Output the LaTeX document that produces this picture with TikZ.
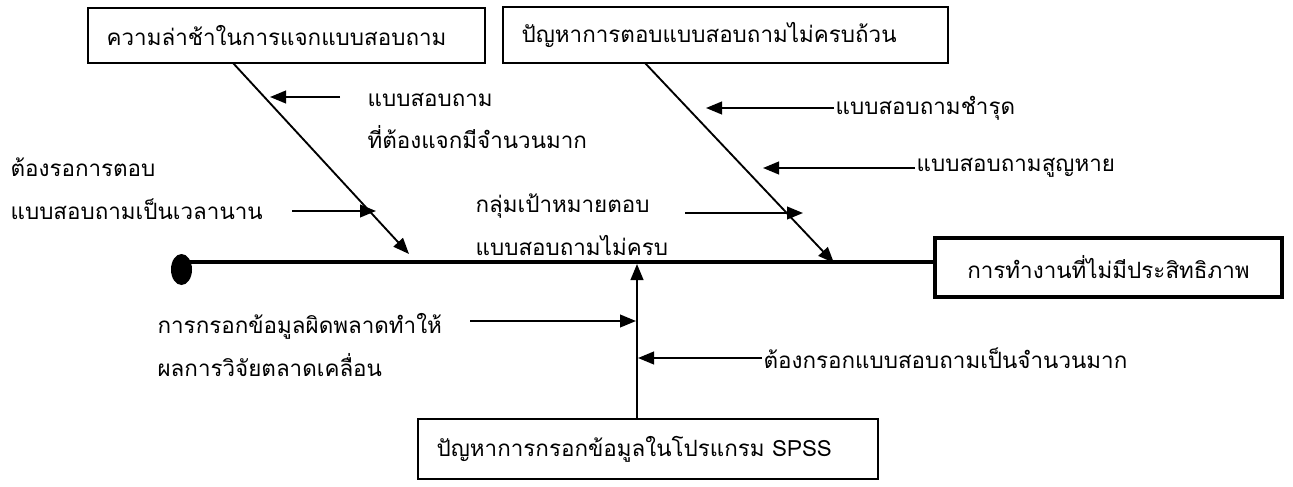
\documentclass[tikz,border=0pt]{standalone}
\usepackage{fontspec}
\newfontfamily\thaifont[Script=Thai]{Loma}
\usetikzlibrary{arrows.meta,shapes.geometric}
\begin{document}
\begin{tikzpicture}[x=0.75pt,y=-0.75pt,
  every node/.style={font=\thaifont\fontsize{16.8}{32}\selectfont},
  causebox/.style={draw, line width=1.3pt, inner xsep=14pt, inner ysep=0pt, align=left},
  effectbox/.style={draw, line width=2.3pt, inner sep=0pt, align=center},
  lbl/.style={anchor=west, inner sep=1pt, align=left},
  bone/.style={line width=1.4pt},
  spine/.style={line width=2.4pt},
  arr/.style={line width=1.5pt, -{Triangle[length=12pt,width=9.5pt]}}
]
\useasboundingbox (0,0) rectangle (1293,486);

% boxes
\node[causebox, text width=269.75pt, minimum height=41.25pt] (c1) at (286.5,35.5) {ความล่าช้าในการแจกแบบสอบถาม};
\node[causebox, text width=305.75pt, minimum height=42pt] (c2) at (725.5,35) {ปัญหาการตอบแบบสอบถามไม่ครบถ้วน};
\node[causebox, text width=317pt, minimum height=45pt] (c3) at (648,449) {ปัญหาการกรอกข้อมูลในโปรแกรม SPSS};
\node[effectbox, minimum width=260.25pt, minimum height=44.25pt] (eff) at (1108.5,267.5) {การทำงานที่ไม่มีประสิทธิภาพ};

% head dot and spine
\node[ellipse, fill=black, inner sep=0pt, minimum width=15.75pt, minimum height=23.25pt] (dot) at (181.5,269.5) {};
\coordinate (spL) at (186,262);
\draw[spine] (spL) -- (spL -| eff.west);

% bones
\coordinate (d1s) at (233,63);
\coordinate (d1e) at (409,254);
\draw[arr, line width=1.4pt] (d1s) -- (d1e);
\coordinate (d2s) at (645,63);
\coordinate (d2e) at (834,263);
\draw[arr, line width=1.4pt] (d2s) -- (d2e);
\coordinate (vb) at (637,419);
\coordinate (vt) at (637,264);
\draw[arr, line width=1.6pt] (vb) -- (vt);

% labels
\node[lbl] (l1) at (366,121) {แบบสอบถาม\\ที่ต้องแจกมีจำนวนมาก};
\node[lbl] (l2) at (9,189) {ต้องรอการตอบ\\แบบสอบถามเป็นเวลานาน};
\node[lbl] (l3) at (834,108) {แบบสอบถามชำรุด};
\node[lbl] (l4) at (915,168) {แบบสอบถามสูญหาย};
\node[lbl] (l5) at (474,225) {กลุ่มเป้าหมายตอบ\\แบบสอบถามไม่ครบ};
\node[lbl] (l6) at (156,345) {การกรอกข้อมูลผิดพลาดทำให้\\ผลการวิจัยตลาดเคลื่อน};
\node[lbl] (l7) at (762,358) {ต้องกรอกแบบสอบถามเป็นจำนวนมาก};

% small arrows
\coordinate (t1) at (340,97);   \coordinate (h1) at (270,97);
\draw[arr] (t1) -- (h1);
\coordinate (t2) at (292,211);  \coordinate (h2) at (376,211);
\draw[arr] (t2) -- (h2);
\coordinate (h3) at (706,108);
\draw[arr] (l3.west) -- (h3);
\coordinate (h4) at (763,167);
\draw[arr] (l4.west) -- (h4 |- l4.west);
\coordinate (t5) at (685,213);  \coordinate (h5) at (803,213);
\draw[arr] (t5) -- (h5);
\coordinate (t6) at (470,321);  \coordinate (h6) at (636,321);
\draw[arr] (t6) -- (h6);
\coordinate (h7) at (638,358);
\draw[arr] (l7.west) -- (h7 |- l7.west);
\end{tikzpicture}
\end{document}
